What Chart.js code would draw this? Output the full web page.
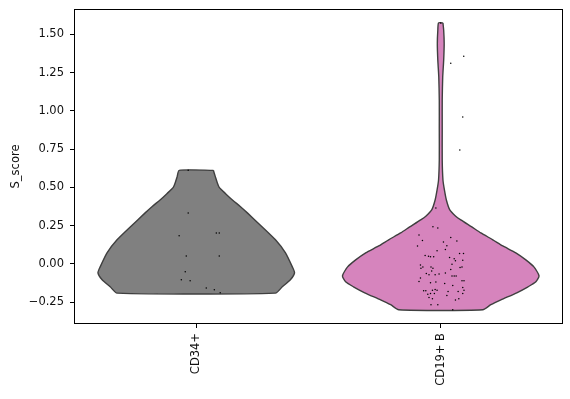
<!DOCTYPE html>
<html>
<head>
<meta charset="utf-8">
<script src="https://cdn.jsdelivr.net/npm/chart.js@4.4.1/dist/chart.umd.min.js"></script>
<style>
  html, body { margin: 0; padding: 0; background: #fff; }
  #wrap { width: 570px; height: 399px; }
</style>
</head>
<body>
<div id="wrap"><canvas id="violinChart"></canvas></div>
<script>
// categories on the x axis
const categories = ['CD34+', 'CD19+ B'];
const yTicks = [-0.25, 0, 0.25, 0.5, 0.75, 1.0, 1.25, 1.5];

// violin outlines: score levels (top to bottom) and half width of the density
const cd34Levels = [0.611, 0.57, 0.53, 0.50, 0.46, 0.417, 0.375, 0.333, 0.241, 0.157, 0.072, -0.020, -0.059, -0.104, -0.150, -0.191];
const cd34Half   = [0.070, 0.078, 0.086, 0.094, 0.119, 0.148, 0.180, 0.209, 0.270, 0.324, 0.365, 0.393, 0.402, 0.385, 0.352, 0.324];

const cd19Levels = [1.574, 1.526, 1.442, 1.331, 1.220, 1.070, 0.874, 0.678, 0.548, 0.483, 0.417, 0.352, 0.313, 0.287, 0.241, 0.202, 0.157, 0.117, 0.072, 0.026, -0.020, -0.078, -0.117, -0.150, -0.189, -0.235, -0.267, -0.300];
const cd19Half   = [0.009, 0.012, 0.014, 0.012, 0.008, 0.006, 0.006, 0.006, 0.009, 0.015, 0.023, 0.037, 0.060, 0.082, 0.127, 0.164, 0.213, 0.254, 0.307, 0.348, 0.381, 0.402, 0.389, 0.357, 0.311, 0.246, 0.205, 0.172];

// single cells: jitter offset and S_score
const cd34Jitter = [-0.033, -0.033, -0.070, 0.082, 0.094, -0.041, 0.094, -0.045, -0.061, -0.025, 0.041, 0.074, 0.098];
const cd34Score  = [0.611, 0.333, 0.183, 0.202, 0.202, 0.052, 0.052, -0.052, -0.104, -0.111, -0.157, -0.170, -0.189];

const cd19Jitter = [
  0.000, 0.094, 0.041, 0.090, 0.078, -0.020,
  -0.089, -0.075, -0.095, -0.064, -0.050, -0.042, -0.029, -0.015, -0.083, -0.081, -0.073, -0.040,
  -0.032, -0.037, -0.059, -0.048, -0.023, -0.007, -0.083, -0.089, -0.042, -0.020, -0.070, -0.061,
  -0.034, -0.023, -0.015, -0.053, -0.042, -0.026, -0.048, -0.034, -0.040, -0.012, -0.012, -0.032,
  0.041, 0.066, 0.011, 0.025, 0.019, 0.077, 0.093, 0.036, 0.055, 0.060, 0.090, 0.046, 0.087,
  0.079, 0.041, 0.019, 0.046, 0.055, 0.063, 0.087, 0.095, 0.016, 0.049, 0.090, 0.095, 0.030,
  0.071, 0.025, 0.090, 0.060, 0.074, 0.049
];
const cd19Score = [
  1.574, 1.357, 1.311, 0.959, 0.744, 0.365,
  0.189, 0.152, 0.117, 0.054, 0.050, 0.046, 0.046, 0.085, -0.007, -0.028, -0.020, -0.020,
  -0.028, -0.046, -0.063, -0.072, -0.072, -0.067, -0.093, -0.115, -0.124, -0.119, -0.176, -0.176,
  -0.172, -0.168, -0.172, -0.198, -0.194, -0.194, -0.220, -0.228, -0.267, -0.267, 0.235, 0.243,
  0.172, 0.150, 0.142, 0.119, 0.093, 0.067, 0.067, 0.041, 0.033, 0.020, 0.024, -0.002, -0.020,
  -0.024, -0.037, -0.059, -0.080, -0.080, -0.080, -0.111, -0.111, -0.129, -0.142, -0.155, -0.172, -0.181,
  -0.181, -0.207, -0.194, -0.237, -0.228, -0.300
];

const fillColors = ['#808080', '#d684bd'];
const edgeColor = '#3f3f3f';
const labelFont = { family: 'DejaVu Sans', size: 11.5 };

function violinShape(center, levels, half) {
  const right = levels.map((v, i) => ({ x: center + half[i], y: v }));
  const left = levels.map((v, i) => ({ x: center - half[i], y: v })).reverse();
  const pts = right.concat(left);
  pts.push(pts[0]);
  return pts;
}

function cells(center, jitter, score) {
  return score.map((v, i) => ({ x: center + jitter[i], y: v }));
}

const violinStyle = {
  showLine: true,
  fill: 'shape',
  borderColor: edgeColor,
  borderWidth: 1.4,
  pointRadius: 0,
  tension: 0.2,
  order: 2
};
const dotStyle = {
  pointRadius: 0.75,
  pointBackgroundColor: '#000',
  pointBorderWidth: 0,
  showLine: false,
  order: 1
};

const frame = {
  id: 'frame',
  afterDatasetsDraw(chart) {
    const a = chart.chartArea;
    const c = chart.ctx;
    c.save();
    c.strokeStyle = '#000';
    c.lineWidth = 1;
    c.strokeRect(Math.round(a.left) + 0.5, Math.round(a.top) + 0.5,
      Math.round(a.right - a.left) - 1, Math.round(a.bottom - a.top) - 1);
    c.restore();
  }
};

const ctx = document.getElementById('violinChart').getContext('2d');
const violinChart = new Chart(ctx, {
  type: 'scatter',
  data: {
    datasets: [
      Object.assign({ label: categories[0], data: violinShape(0, cd34Levels, cd34Half), backgroundColor: fillColors[0] }, violinStyle),
      Object.assign({ label: categories[1], data: violinShape(1, cd19Levels, cd19Half), backgroundColor: fillColors[1] }, violinStyle),
      Object.assign({ label: 'cells ' + categories[0], data: cells(0, cd34Jitter, cd34Score) }, dotStyle),
      Object.assign({ label: 'cells ' + categories[1], data: cells(1, cd19Jitter, cd19Score) }, dotStyle)
    ]
  },
  options: {
    responsive: true,
    maintainAspectRatio: false,
    animation: false,
    layout: { padding: { top: 9, right: 7, bottom: 0, left: 0 } },
    plugins: { legend: { display: false }, tooltip: { enabled: false } },
    scales: {
      x: {
        type: 'linear',
        min: -0.5,
        max: 1.5,
        afterBuildTicks: s => { s.ticks = categories.map((c, i) => ({ value: i })); },
        afterFit: s => { s.height = 75; s.paddingLeft = 0; s.paddingRight = 0; },
        grid: { drawOnChartArea: false, drawTicks: true, tickLength: 4, color: '#000' },
        border: { display: false },
        ticks: {
          callback: v => categories[v],
          minRotation: 90,
          maxRotation: 90,
          padding: 5,
          color: '#111',
          font: labelFont
        }
      },
      y: {
        min: -0.393,
        max: 1.665,
        afterBuildTicks: s => { s.ticks = yTicks.map(v => ({ value: v })); },
        afterFit: s => { s.width = 74; s.paddingTop = 0; s.paddingBottom = 0; },
        grid: { drawOnChartArea: false, drawTicks: true, tickLength: 4, color: '#000' },
        border: { display: false },
        title: {
          display: true,
          text: 'S_score',
          color: '#111',
          padding: { top: 9, bottom: 0 },
          font: labelFont
        },
        ticks: {
          callback: v => (v < 0 ? '\u2212' : '') + Math.abs(v).toFixed(2),
          padding: 6,
          color: '#111',
          font: labelFont
        }
      }
    }
  },
  plugins: [frame]
});
</script>
</body>
</html>
